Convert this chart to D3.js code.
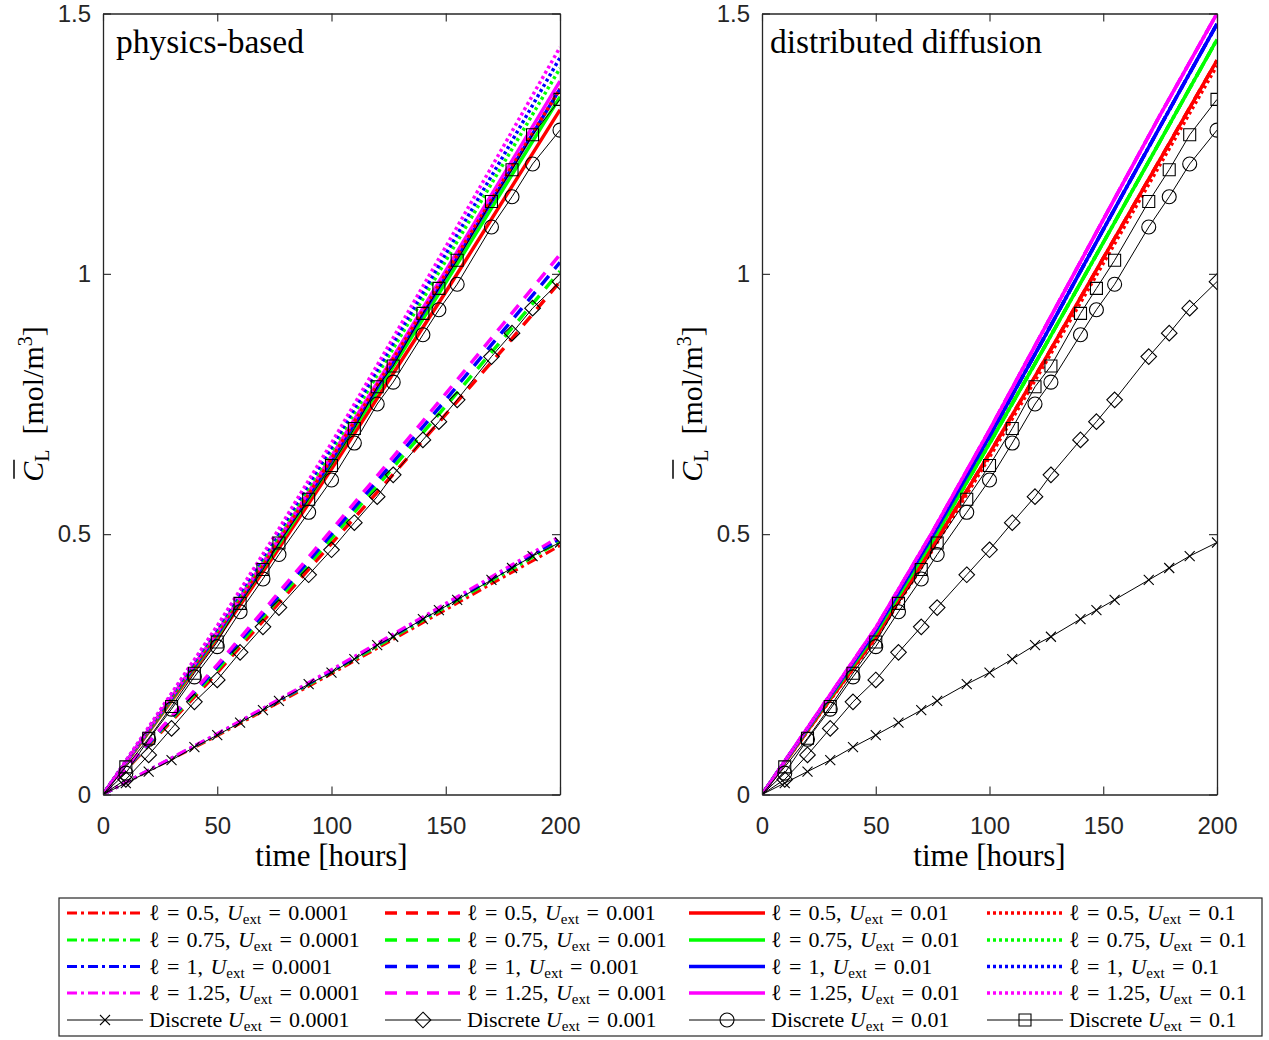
<!DOCTYPE html>
<html>
<head>
<meta charset="utf-8">
<script src="https://cdn.jsdelivr.net/npm/d3@7"></script>
<style>
body { margin: 0; background: #fff; }
svg { display: block; }
</style>
</head>
<body>
<script>
// ---- data ----
var tHours = [0, 25, 50, 75, 100, 125, 150, 175, 200];
var lengths = ["0.5", "0.75", "1", "1.25"];
var uExt = ["0.0001", "0.001", "0.01", "0.1"];

// physics-based model, rows = l 0.5, 0.75, 1, 1.25
var pbU0001 = [
  [0, 0.057, 0.113, 0.172, 0.232, 0.293, 0.355, 0.417, 0.478],
  [0, 0.058, 0.115, 0.175, 0.235, 0.297, 0.360, 0.423, 0.486],
  [0, 0.058, 0.116, 0.176, 0.237, 0.300, 0.363, 0.427, 0.491],
  [0, 0.059, 0.117, 0.178, 0.240, 0.303, 0.367, 0.431, 0.496]
];
var pbU001 = [
  [0, 0.118, 0.234, 0.358, 0.482, 0.605, 0.730, 0.855, 0.985],
  [0, 0.121, 0.240, 0.366, 0.492, 0.618, 0.746, 0.875, 1.005],
  [0, 0.123, 0.245, 0.372, 0.500, 0.628, 0.758, 0.890, 1.022],
  [0, 0.125, 0.249, 0.378, 0.508, 0.638, 0.770, 0.903, 1.037]
];
var pbU01 = [
  [0, 0.150, 0.300, 0.460, 0.625, 0.795, 0.965, 1.140, 1.315],
  [0, 0.152, 0.305, 0.468, 0.635, 0.808, 0.983, 1.162, 1.340],
  [0, 0.154, 0.308, 0.473, 0.642, 0.817, 0.995, 1.175, 1.355],
  [0, 0.156, 0.312, 0.478, 0.650, 0.826, 1.006, 1.188, 1.370]
];
var pbU1 = [
  [0, 0.155, 0.310, 0.475, 0.645, 0.822, 1.000, 1.178, 1.355],
  [0, 0.158, 0.316, 0.485, 0.660, 0.842, 1.025, 1.210, 1.395],
  [0, 0.160, 0.320, 0.490, 0.667, 0.852, 1.038, 1.225, 1.415],
  [0, 0.162, 0.324, 0.496, 0.675, 0.862, 1.052, 1.243, 1.435]
];

// distributed diffusion model
var ddU01 = [
  [0, 0.153, 0.303, 0.476, 0.655, 0.840, 1.030, 1.220, 1.410],
  [0, 0.156, 0.310, 0.488, 0.674, 0.866, 1.060, 1.255, 1.450],
  [0, 0.158, 0.315, 0.497, 0.688, 0.885, 1.085, 1.283, 1.480],
  [0, 0.160, 0.320, 0.505, 0.700, 0.902, 1.104, 1.305, 1.500]
];
var ddU1 = [
  [0, 0.152, 0.300, 0.470, 0.648, 0.832, 1.020, 1.210, 1.400],
  [0, 0.156, 0.310, 0.488, 0.674, 0.866, 1.060, 1.255, 1.450],
  [0, 0.158, 0.315, 0.497, 0.688, 0.885, 1.085, 1.283, 1.480],
  [0, 0.160, 0.320, 0.505, 0.700, 0.902, 1.104, 1.305, 1.500]
];

// discrete simulations
var tDiscrete = [10, 20, 30, 40, 50, 60, 70, 77, 90, 100, 110, 120, 127, 140, 147, 155, 170, 179, 188, 200];
var discU0001 = [0.022, 0.044, 0.066, 0.091, 0.114, 0.138, 0.162, 0.180, 0.212, 0.234, 0.260, 0.287, 0.303, 0.337, 0.354, 0.374, 0.412, 0.435, 0.458, 0.484];
var discU001 = [0.029, 0.076, 0.127, 0.178, 0.220, 0.273, 0.322, 0.359, 0.422, 0.470, 0.522, 0.572, 0.614, 0.681, 0.716, 0.758, 0.841, 0.886, 0.934, 0.985];
var discU01 = [0.041, 0.106, 0.164, 0.226, 0.284, 0.351, 0.414, 0.461, 0.542, 0.604, 0.675, 0.750, 0.792, 0.883, 0.931, 0.980, 1.090, 1.148, 1.211, 1.276];
var discU1 = [0.053, 0.108, 0.169, 0.233, 0.293, 0.367, 0.432, 0.483, 0.567, 0.632, 0.703, 0.783, 0.823, 0.924, 0.972, 1.026, 1.139, 1.200, 1.267, 1.335];

var xTicks = [0, 50, 100, 150, 200];
var yTicks = [0, 0.5, 1, 1.5];

// ---- styles ----
var colors = ["#ff0000", "#00ff00", "#0000ff", "#ff00ff"];
var lineStyles = [
  { dash: "10,4,3,4", w: 3 },
  { dash: "12,9", w: 3.5 },
  { dash: null, w: 3.5 },
  { dash: "3,3", w: 3.5 }
];
var markers = ["x", "diamond", "circle", "square"];
var axisColor = "#262626";
var sansFont = "'Liberation Sans', Arial, sans-serif";
var serifFont = "'Liberation Serif', 'Times New Roman', serif";

var svg = d3.select("body").append("svg")
  .attr("width", 1269)
  .attr("height", 1040);

var plotTop = 13.5, plotBottom = 794.5;

function markerPath(type, cx, cy) {
  if (type == "x") {
    var s = 5;
    return "M" + (cx - s) + "," + (cy - s) + "L" + (cx + s) + "," + (cy + s) +
           "M" + (cx - s) + "," + (cy + s) + "L" + (cx + s) + "," + (cy - s);
  }
  if (type == "diamond") {
    var d = 7.8;
    return "M" + cx + "," + (cy - d) + "L" + (cx + d) + "," + cy + "L" + cx + "," + (cy + d) + "L" + (cx - d) + "," + cy + "Z";
  }
  if (type == "square") {
    var q = 6;
    return "M" + (cx - q) + "," + (cy - q) + "h" + (2 * q) + "v" + (2 * q) + "h" + (-2 * q) + "Z";
  }
  var r = 7;
  return "M" + (cx - r) + "," + cy + "a" + r + "," + r + " 0 1,0 " + (2 * r) + ",0a" + r + "," + r + " 0 1,0 " + (-2 * r) + ",0Z";
}

function drawPanel(id, x0, x1, models, title, titleDx) {
  var x = d3.scaleLinear().domain([0, 200]).range([x0, x1]);
  var y = d3.scaleLinear().domain([0, 1.5]).range([plotBottom, plotTop]);

  svg.append("clipPath").attr("id", "clip" + id)
    .append("rect").attr("x", x0).attr("y", plotTop).attr("width", x1 - x0).attr("height", plotBottom - plotTop);

  var plot = svg.append("g").attr("clip-path", "url(#clip" + id + ")");
  var line = d3.line().x(function(d) { return x(d[0]); }).y(function(d) { return y(d[1]); });

  // model curves: dash-dot, dashed, solid, dotted
  models.forEach(function(set, s) {
    set.forEach(function(vals, c) {
      var pts = tHours.map(function(t, i) { return [t, vals[i]]; });
      plot.append("path")
        .attr("d", line(pts))
        .attr("fill", "none")
        .attr("stroke", colors[c])
        .attr("stroke-width", lineStyles[s].w)
        .attr("stroke-dasharray", lineStyles[s].dash);
    });
  });

  // discrete simulations
  [discU0001, discU001, discU01, discU1].forEach(function(vals, s) {
    var pts = [[0, 0]].concat(tDiscrete.map(function(t, i) { return [t, vals[i]]; }));
    plot.append("path")
      .attr("d", line(pts))
      .attr("fill", "none")
      .attr("stroke", "#000")
      .attr("stroke-width", 1);
    plot.selectAll(null)
      .data(tDiscrete.map(function(t, i) { return [t, vals[i]]; }))
      .enter()
      .append("path")
      .attr("d", function(d) { return markerPath(markers[s], x(d[0]), y(d[1])); })
      .attr("fill", "none")
      .attr("stroke", "#000")
      .attr("stroke-width", 1.1);
  });

  // axes, ticks inward, box on
  var ax = svg.append("g");
  ax.append("g").attr("transform", "translate(0," + plotBottom + ")")
    .call(d3.axisBottom(x).tickValues(xTicks).tickSize(-8).tickSizeOuter(0).tickPadding(22).tickFormat(d3.format("d")));
  ax.append("g").attr("transform", "translate(0," + plotTop + ")")
    .call(d3.axisTop(x).tickValues(xTicks).tickSize(-8).tickSizeOuter(0).tickFormat(""));
  ax.append("g").attr("transform", "translate(" + x0 + ",0)")
    .call(d3.axisLeft(y).tickValues(yTicks).tickSize(-8).tickSizeOuter(0).tickPadding(12).tickFormat(function(d) { return String(d); }));
  ax.append("g").attr("transform", "translate(" + x1 + ",0)")
    .call(d3.axisRight(y).tickValues(yTicks).tickSize(-8).tickSizeOuter(0).tickFormat(""));
  ax.selectAll(".domain").attr("stroke", axisColor).attr("stroke-width", 1.3);
  ax.selectAll(".tick line").attr("stroke", axisColor).attr("stroke-width", 1.1);
  ax.selectAll(".tick text")
    .attr("fill", axisColor)
    .style("font-family", sansFont)
    .style("font-size", "24px");

  // title inside axes
  svg.append("text")
    .attr("x", x0 + titleDx)
    .attr("y", 53)
    .style("font-family", serifFont)
    .style("font-size", "33.5px")
    .text(title);

  // x label
  svg.append("text")
    .attr("x", (x0 + x1) / 2)
    .attr("y", 866)
    .attr("text-anchor", "middle")
    .style("font-family", serifFont)
    .style("font-size", "31px")
    .text("time [hours]");

  // y label with overline C
  var gl = svg.append("g").attr("transform", "translate(" + (x0 - 60) + "," + ((plotTop + plotBottom) / 2) + ") rotate(-90)");
  var yl = gl.append("text")
    .attr("text-anchor", "middle")
    .style("font-family", serifFont)
    .style("font-size", "30px");
  yl.append("tspan").style("font-style", "italic").text("C");
  yl.append("tspan").attr("dy", 6).style("font-size", "20px").text("L");
  yl.append("tspan").attr("dy", -6).text("\u2002[mol/m");
  yl.append("tspan").attr("dy", -11).style("font-size", "20px").text("3");
  yl.append("tspan").attr("dy", 11).text("]");
  var ext = yl.node().getExtentOfChar(0);
  gl.append("line")
    .attr("x1", ext.x + 3).attr("x2", ext.x + ext.width + 2)
    .attr("y1", ext.y - 2).attr("y2", ext.y - 2)
    .attr("stroke", "#000").attr("stroke-width", 1.5);
}

drawPanel("L", 103, 560, [pbU0001, pbU001, pbU01, pbU1], "physics-based", 13);
drawPanel("R", 762, 1217, [ddU01, ddU01, ddU01, ddU1], "distributed diffusion", 8);

// ---- legend ----
var legend = svg.append("g");
legend.append("rect")
  .attr("x", 59).attr("y", 898).attr("width", 1203).attr("height", 138)
  .attr("fill", "#fff").attr("stroke", axisColor).attr("stroke-width", 1.2);

var colLineX = [67, 385, 689, 987];
var rowY = [913, 940, 966.5, 993, 1020];
var lineLen = 76;

function legendText(tx, ty, pre, lVal, u) {
  var t = legend.append("text")
    .attr("x", tx).attr("y", ty + 7)
    .style("font-family", serifFont)
    .style("font-size", "22px");
  if (lVal != null) {
    t.append("tspan").text("\u2113\u2004=\u2004" + lVal + ",\u2004");
  } else {
    t.append("tspan").text(pre + " ");
  }
  t.append("tspan").style("font-style", "italic").text("U");
  t.append("tspan").attr("dy", 4).style("font-size", "15px").text("ext");
  t.append("tspan").attr("dy", -4).text("\u2004=\u2004" + u);
}

uExt.forEach(function(u, s) {
  var lx = colLineX[s];
  lengths.forEach(function(l, c) {
    legend.append("line")
      .attr("x1", lx).attr("x2", lx + lineLen)
      .attr("y1", rowY[c]).attr("y2", rowY[c])
      .attr("stroke", colors[c])
      .attr("stroke-width", lineStyles[s].w)
      .attr("stroke-dasharray", lineStyles[s].dash);
    legendText(lx + lineLen + 6, rowY[c], null, l, u);
  });
  legend.append("line")
    .attr("x1", lx).attr("x2", lx + lineLen)
    .attr("y1", rowY[4]).attr("y2", rowY[4])
    .attr("stroke", "#000").attr("stroke-width", 1);
  legend.append("path")
    .attr("d", markerPath(markers[s], lx + lineLen / 2, rowY[4]))
    .attr("fill", "none").attr("stroke", "#000").attr("stroke-width", 1.1);
  legendText(lx + lineLen + 6, rowY[4], "Discrete", null, u);
});
</script>
</body>
</html>
